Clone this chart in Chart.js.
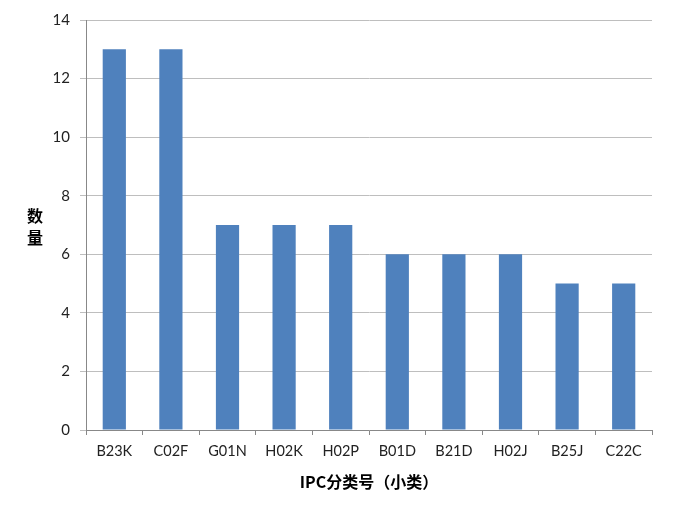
<!DOCTYPE html>
<html>
<head>
<meta charset="utf-8">
<script src="https://cdn.jsdelivr.net/npm/chart.js@4/dist/chart.umd.min.js"></script>
<style>
html,body{margin:0;padding:0;background:#fff;}
#wrap{width:680px;height:516px;position:relative;}
</style>
</head>
<body>
<div id="wrap"><canvas id="c" width="680" height="516"></canvas></div>
<script>
const categories = ["B23K","C02F","G01N","H02K","H02P","B01D","B21D","H02J","B25J","C22C"];
const counts = [13,13,7,7,7,6,6,6,5,5];
const yTicks = [0,2,4,6,8,10,12,14];
const xTitle = "IPC分类号（小类）";
const yTitle = ["数","量"];

const FONT = "Lato, 'Noto Sans CJK SC', sans-serif";
const TFONT = "'Noto Sans CJK SC', sans-serif";

const titlePlugin = {
  id: 'titles',
  afterDraw(chart) {
    const ctx = chart.ctx, a = chart.chartArea;
    ctx.save();
    ctx.fillStyle = '#000';
    ctx.font = "bold 16px " + TFONT;
    ctx.textAlign = 'center';
    ctx.textBaseline = 'middle';
    ctx.fillText(xTitle, (a.left + a.right) / 2, 482);
    ctx.fillText(yTitle[0], 35, 216);
    ctx.fillText(yTitle[1], 35, 238);
    ctx.restore();
  }
};

new Chart(document.getElementById('c'), {
  type: 'bar',
  data: {
    labels: categories,
    datasets: [{
      data: counts,
      backgroundColor: '#4F81BD',
      borderWidth: 0,
      barPercentage: 0.41,
      categoryPercentage: 1
    }]
  },
  options: {
    responsive: false,
    animation: false,
    events: [],
    layout: { padding: { top: 20, right: 28, left: 0, bottom: 0 } },
    plugins: { legend: { display: false }, tooltip: { enabled: false } },
    scales: {
      x: {
        grid: { display: true, drawOnChartArea: false, drawTicks: true, tickLength: 5, color: '#888888', offset: true },
        border: { display: true, color: '#888888' },
        ticks: { color: '#222', font: { family: FONT, size: 14.5 }, padding: 8, maxRotation: 0, autoSkip: false },
        afterFit(s) { s.height = 86; }
      },
      y: {
        min: 0, max: 14,
        afterBuildTicks(s) { s.ticks = yTicks.map(v => ({ value: v })); },
        grid: { color: '#BEBEBE', tickLength: 6, lineWidth: 1 },
        border: { display: true, color: '#888888' },
        ticks: { color: '#222', font: { family: FONT, size: 15 }, padding: 10 },
        afterFit(s) { s.width = 86; }
      }
    }
  },
  plugins: [titlePlugin]
});
</script>
</body>
</html>
